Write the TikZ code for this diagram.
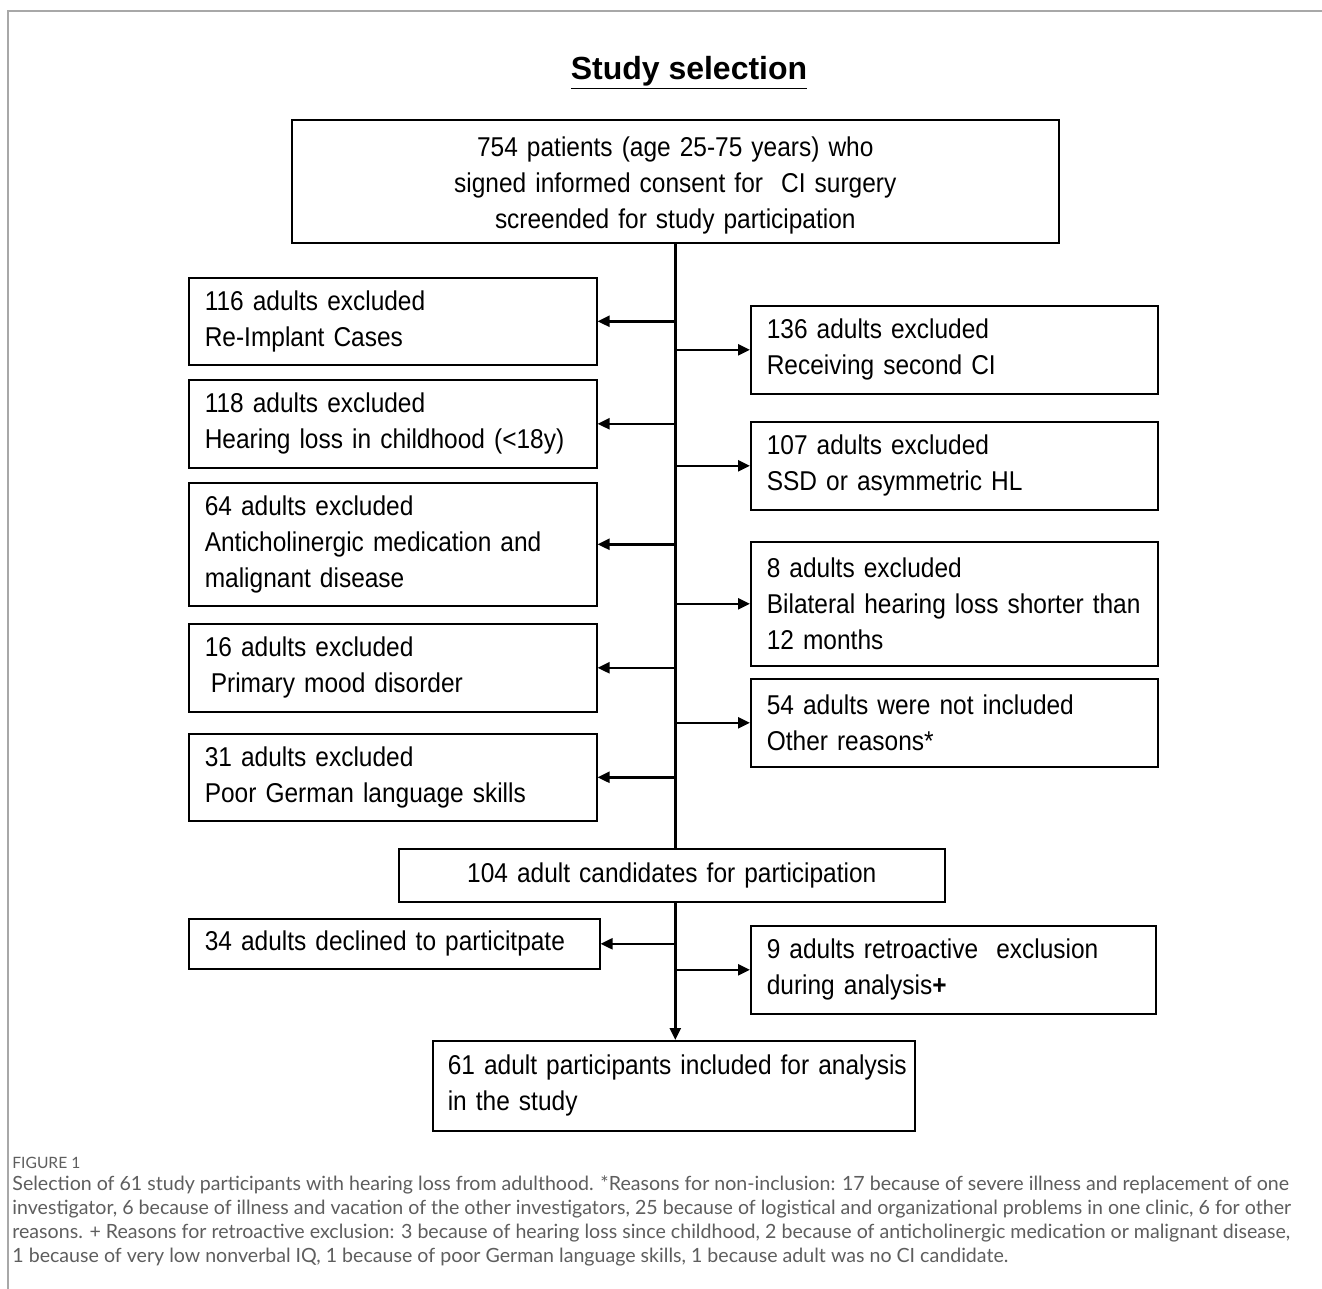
\documentclass[tikz,border=0pt]{standalone}
\usepackage{fontspec}
\setmainfont{Liberation Sans}
\newfontfamily\diagfont[FakeStretch=0.9]{Liberation Sans}
\newfontfamily\capfont{Lato}
\usetikzlibrary{arrows.meta}
\definecolor{framegray}{HTML}{A8A8A8}
\definecolor{capgray}{HTML}{5E5E5E}
\begin{document}
\begin{tikzpicture}[x=0.5pt,y=-0.5pt,
  every node/.style={inner sep=0pt},
  box/.style={draw, line width=0.8pt, anchor=north west, inner xsep=8pt, inner ysep=0pt, align=left,
    font={\diagfont\fontsize{13.6}{18}\selectfont}},
  arr/.style={line width=1.2pt, -{Triangle[length=6pt,width=5.5pt]}},
  spine/.style={line width=1.2pt},
  capline/.style={anchor=base west, text=capgray, font={\capfont\fontsize{9.8}{12}\selectfont}}]
\useasboundingbox (0,0) rectangle (1322,1289);
\fill[white] (0,0) rectangle (1322,1289);
\draw[framegray, line width=0.6pt] (8,1289) -- (8,11) -- (1322,11);

\node[font={\bfseries\fontsize{16}{19}\selectfont}] (title) at (689,73) {\underline{Study selection}};

\node[box, align=center, text width=367.5pt, minimum height=61.5pt] (top) at (291,119)
  {\rule{0pt}{14pt}754 patients (age 25-75 years) who\\signed informed consent for\ \ CI surgery\\screended for study participation};

\node[box, text width=188pt, minimum height=43.5pt] (l1) at (188,277) {116 adults excluded\\Re-Implant Cases};
\node[box, text width=188pt, minimum height=44pt] (l2) at (188,379) {118 adults excluded\\Hearing loss in childhood (<18y)};
\node[box, text width=188pt, minimum height=61.5pt] (l3) at (188,482) {64 adults excluded\\\mbox{Anticholinergic medication and}\\malignant disease};
\node[box, text width=188pt, minimum height=44pt] (l4) at (188,623) {16 adults excluded\\\hspace{3pt}Primary mood disorder};
\node[box, text width=188pt, minimum height=43.5pt] (l5) at (188,733) {31 adults excluded\\Poor German language skills};

\node[box, text width=187.5pt, minimum height=44pt] (r1) at (750,305) {136 adults excluded\\Receiving second CI};
\node[box, text width=187.5pt, minimum height=44pt] (r2) at (750,421) {107 adults excluded\\SSD or asymmetric HL};
\node[box, text width=187.5pt, minimum height=62pt] (r3) at (750,541) {8 adults excluded\\\mbox{Bilateral hearing loss shorter than}\\12 months};
\node[box, text width=187.5pt, minimum height=44pt] (r4) at (750,678) {54 adults were not included\\Other reasons*};

\node[box, align=center, text width=257pt, minimum height=26.5pt] (cand) at (398,848) {104 adult candidates for participation};
\node[box, text width=189.5pt, minimum height=25pt] (decl) at (188,918) {34 adults declined to particitpate};
\node[box, text width=186.5pt, minimum height=44pt] (retro) at (750,925) {\mbox{9 adults retroactive\ \ exclusion}\\during analysis\textbf{+}};
\node[box, inner xsep=7.5pt, text width=226pt, minimum height=45pt] (final) at (432,1040) {\mbox{61 adult participants included for analysis}\\in the study};

% spine
\draw[spine] (top.south) -- (cand.north -| top.south);
\draw[arr] (cand.south -| top.south) -- (final.north -| top.south);

% side arrows
\foreach \n in {l1,l2,l3,l4,l5,decl}{\draw[arr] (\n.east -| top.south) -- (\n.east);}
\foreach \n in {r1,r2,r3,r4,retro}{\draw[arr] (\n.west -| top.south) -- (\n.west);}

% caption
\node[anchor=base west, text=capgray, font={\capfont\fontsize{7.8}{9}\selectfont}] (fig) at (12,1168) {FIGURE 1};
\node[capline] (c1) at (12,1190) {Selection of 61 study participants with hearing loss from adulthood. *Reasons for non-inclusion: 17 because of severe illness and replacement of one};
\node[capline] (c2) at (12,1214) {investigator, 6 because of illness and vacation of the other investigators, 25 because of logistical and organizational problems in one clinic, 6 for other};
\node[capline] (c3) at (12,1238) {reasons. + Reasons for retroactive exclusion: 3 because of hearing loss since childhood, 2 because of anticholinergic medication or malignant disease,};
\node[capline] (c4) at (12,1262) {1 because of very low nonverbal IQ, 1 because of poor German language skills, 1 because adult was no CI candidate.};
\end{tikzpicture}
\end{document}
